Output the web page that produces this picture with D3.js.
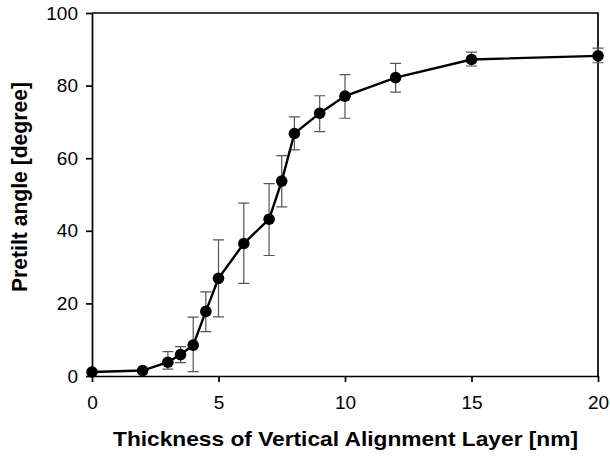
<!DOCTYPE html>
<html>
<head>
<script src="https://cdn.jsdelivr.net/npm/d3@7"></script>
<style>
body { margin: 0; background: #fff; }
svg { font-family: "Liberation Sans", Arial, sans-serif; }
.axis path, .axis line { stroke: #000; stroke-width: 1.7; }
.axis text { font-size: 19px; fill: #000; }
.title { font-weight: bold; fill: #000; }
</style>
</head>
<body>
<div id="chart"></div>
<script>
// thickness of vertical alignment layer [nm]
var thickness = [0, 2, 3, 3.5, 4, 4.5, 5, 6, 7, 7.5, 8, 9, 10, 12, 15, 20];
// pretilt angle [degree]
var pretilt = [1.1, 1.5, 3.8, 5.9, 8.5, 17.8, 26.9, 36.5, 43.2, 53.7, 66.8, 72.4, 77.1, 82.2, 87.2, 88.2];
var errHigh = [1.1, 1.5, 6.7, 8.1, 16.2, 23.2, 37.5, 47.6, 53.0, 60.7, 71.4, 77.2, 83.0, 86.1, 89.2, 90.3];
var errLow = [1.1, 1.5, 1.9, 3.7, 1.2, 12.2, 16.3, 25.5, 33.2, 46.6, 62.3, 67.3, 71.0, 78.2, 85.4, 86.3];
var xTicks = [0, 5, 10, 15, 20];
var yTicks = [0, 20, 40, 60, 80, 100];

var w = 610, h = 457;
var margin = {left: 92, right: 12, top: 13, bottom: 81};

var svg = d3.select("#chart").append("svg")
    .attr("width", w)
    .attr("height", h);

var x = d3.scaleLinear().domain([0, 20]).range([margin.left, w - margin.right]);
var y = d3.scaleLinear().domain([0, 100]).range([h - margin.bottom, margin.top]);

var data = thickness.map(function(d, i) {
  return {x: d, y: pretilt[i], lo: errLow[i], hi: errHigh[i]};
});

// frame (top and right)
svg.append("path")
    .attr("d", "M" + x(0) + "," + y(100) + "H" + x(20) + "V" + y(0))
    .style("fill", "none")
    .style("stroke", "#000")
    .style("stroke-width", 1.7);

svg.append("g")
    .attr("class", "axis")
    .attr("transform", "translate(0," + y(0) + ")")
    .call(d3.axisBottom(x).tickValues(xTicks).tickSize(6).tickSizeOuter(0).tickPadding(14));

svg.append("g")
    .attr("class", "axis")
    .attr("transform", "translate(" + x(0) + ",0)")
    .call(d3.axisLeft(y).tickValues(yTicks).tickSize(6).tickSizeOuter(0).tickPadding(8));

svg.selectAll(".axis text").attr("font-family", null);

// error bars
var eb = svg.append("g")
    .style("stroke", "#555")
    .style("stroke-width", 1.2)
    .style("fill", "none");

eb.selectAll("path")
    .data(data.filter(function(d) { return d.hi - d.lo > 0.5; }))
  .enter().append("path")
    .attr("d", function(d) {
      var cx = x(d.x), c = 5.5;
      return "M" + cx + "," + y(d.hi) + "V" + y(d.lo) +
             "M" + (cx - c) + "," + y(d.hi) + "H" + (cx + c) +
             "M" + (cx - c) + "," + y(d.lo) + "H" + (cx + c);
    });

var line = d3.line()
    .x(function(d) { return x(d.x); })
    .y(function(d) { return y(d.y); });

svg.append("path")
    .datum(data)
    .attr("d", line)
    .style("fill", "none")
    .style("stroke", "#000")
    .style("stroke-width", 2.4);

svg.selectAll("circle.node")
    .data(data)
  .enter().append("circle")
    .attr("class", "node")
    .attr("cx", function(d) { return x(d.x); })
    .attr("cy", function(d) { return y(d.y); })
    .attr("r", 5.8)
    .style("fill", "#000");

svg.append("text")
    .attr("class", "title")
    .attr("x", 345.5)
    .attr("y", 446)
    .attr("text-anchor", "middle")
    .style("font-size", "21px")
    .attr("textLength", 465)
    .attr("lengthAdjust", "spacingAndGlyphs")
    .text("Thickness of Vertical Alignment Layer [nm]");

svg.append("text")
    .attr("class", "title")
    .attr("transform", "translate(27,187) rotate(-90)")
    .attr("text-anchor", "middle")
    .style("font-size", "22px")
    .attr("textLength", 210)
    .attr("lengthAdjust", "spacingAndGlyphs")
    .text("Pretilt angle [degree]");
</script>
</body>
</html>
